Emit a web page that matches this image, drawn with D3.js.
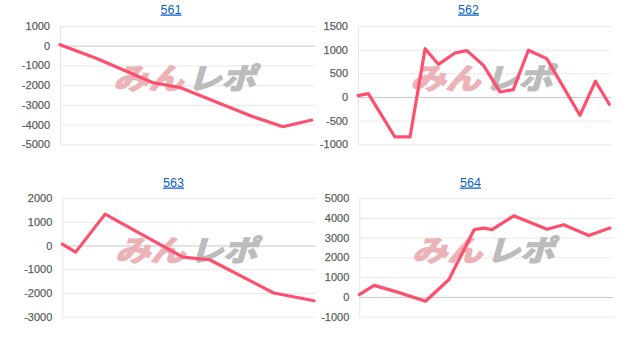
<!DOCTYPE html>
<html>
<head>
<meta charset="utf-8">
<script src="https://cdn.jsdelivr.net/npm/d3@7"></script>
<style>
  body { margin: 0; background: #fff; }
  svg text { font-family: "Liberation Sans", Arial, sans-serif; }
</style>
</head>
<body>
<div id="chart"></div>
<script>
// --- data ---
const titles = ["561", "562", "563", "564"];

const ticks561 = [1000, 0, -1000, -2000, -3000, -4000, -5000];
const ticks562 = [1500, 1000, 500, 0, -500, -1000];
const ticks563 = [2000, 1000, 0, -1000, -2000, -3000];
const ticks564 = [5000, 4000, 3000, 2000, 1000, 0, -1000];

// position along the period (0 = first day, 100 = last day)
const t561 = [0, 14.6, 37, 47.7, 76.7, 88.6, 100];
const v561 = [50, -650, -1880, -2120, -3600, -4110, -3770];

const t562 = [0, 4.1, 14.7, 20.7, 26.7, 32, 38.6, 43.3, 49.9, 56.5, 61.8, 67.8, 75.1, 88.3, 94.5, 100];
const v562 = [30, 70, -845, -845, 1020, 690, 930, 980, 670, 106, 156, 987, 811, -387, 332, -154];

const t563 = [0, 5.3, 17, 47.9, 58.5, 84, 100];
const v563 = [60, -280, 1320, -490, -600, -2000, -2330];

const t564 = [0, 5.9, 15.6, 26.4, 35.7, 45.8, 49.6, 53, 61.6, 74.9, 81.5, 91.5, 100];
const v564 = [115, 585, 230, -220, 870, 3400, 3480, 3400, 4100, 3420, 3650, 3100, 3480];

const panels = [
  { title: titles[0], ticks: ticks561, t: t561, v: v561, left: 60,    last: 311.7, right: 315, top: 26,  bottom: 144.3, tx: 171,   ty: 13.5 },
  { title: titles[1], ticks: ticks562, t: t562, v: v562, left: 358,   last: 609.3, right: 611, top: 26,  bottom: 144.3, tx: 468.5, ty: 13.5 },
  { title: titles[2], ticks: ticks563, t: t563, v: v563, left: 62.3,  last: 314,   right: 316, top: 198, bottom: 316.7, tx: 173.5, ty: 186.5 },
  { title: titles[3], ticks: ticks564, t: t564, v: v564, left: 359.3, last: 610,   right: 613, top: 198, bottom: 316.7, tx: 470.5, ty: 186.5 },
];

const W = 627, H = 338;
const svg = d3.select("#chart").append("svg")
  .attr("width", W)
  .attr("height", H)
  .style("display", "block");

svg.append("rect").attr("width", W).attr("height", H).attr("fill", "#fff");

panels.forEach((p) => {
  const x = d3.scaleLinear().domain([0, 100]).range([p.left, p.last]);
  const y = d3.scaleLinear()
    .domain([d3.min(p.ticks), d3.max(p.ticks)])
    .range([p.bottom, p.top]);

  // title (link style)
  svg.append("text")
    .attr("x", p.tx)
    .attr("y", p.ty)
    .attr("text-anchor", "middle")
    .attr("font-size", 12.5)
    .attr("fill", "#0b63c9")
    .attr("text-decoration", "underline")
    .text(p.title);

  // y axis + gridlines
  const axis = svg.append("g")
    .attr("transform", `translate(${p.left},0)`)
    .call(d3.axisLeft(y)
      .tickValues(p.ticks)
      .tickSize(-(p.right - p.left))
      .tickSizeOuter(0)
      .tickPadding(10)
      .tickFormat((d) => String(d)));

  axis.select(".domain").attr("stroke", "#e6e6e6");
  axis.selectAll(".tick line")
    .attr("stroke", (d) => (d === 0 ? "#c9c9c9" : "#e9e9e9"));
  axis.selectAll(".tick text")
    .attr("font-size", 11)
    .attr("fill", "#5f5f5f")
    .attr("stroke", "#5f5f5f")
    .attr("stroke-width", 0.25)
    .attr("font-family", "Liberation Sans, Arial, sans-serif");

  // watermark
  const cx = (p.left + p.right) / 2 - 2;
  const cy = p.top + (p.bottom - p.top) * 0.44;
  const wm = svg.append("g")
    .attr("transform", `translate(${cx},${cy + 11}) skewX(-16)`)
    .attr("font-weight", 700)
    .attr("font-size", 29);
  wm.append("text")
    .attr("x", -72)
    .attr("y", 0)
    .attr("textLength", 70)
    .attr("lengthAdjust", "spacingAndGlyphs")
    .attr("fill", "#ebb3b7")
    .attr("stroke", "#ebb3b7")
    .attr("stroke-width", 1.6)
    .style("font-family", "Noto Sans CJK JP, sans-serif")
    .text("みん");
  wm.append("text")
    .attr("x", 2)
    .attr("y", 0)
    .attr("textLength", 68)
    .attr("lengthAdjust", "spacingAndGlyphs")
    .attr("fill", "#bcbcbc")
    .attr("stroke", "#bcbcbc")
    .attr("stroke-width", 1.6)
    .style("font-family", "Noto Sans CJK JP, sans-serif")
    .text("レポ");

  // series line
  const pts = p.t.map((t, i) => [t, p.v[i]]);
  svg.append("path")
    .datum(pts)
    .attr("fill", "none")
    .attr("stroke", "#ff4f6f")
    .attr("stroke-width", 3.2)
    .attr("stroke-linejoin", "round")
    .attr("stroke-linecap", "round")
    .attr("d", d3.line().x((d) => x(d[0])).y((d) => y(d[1])));
});
</script>
</body>
</html>
